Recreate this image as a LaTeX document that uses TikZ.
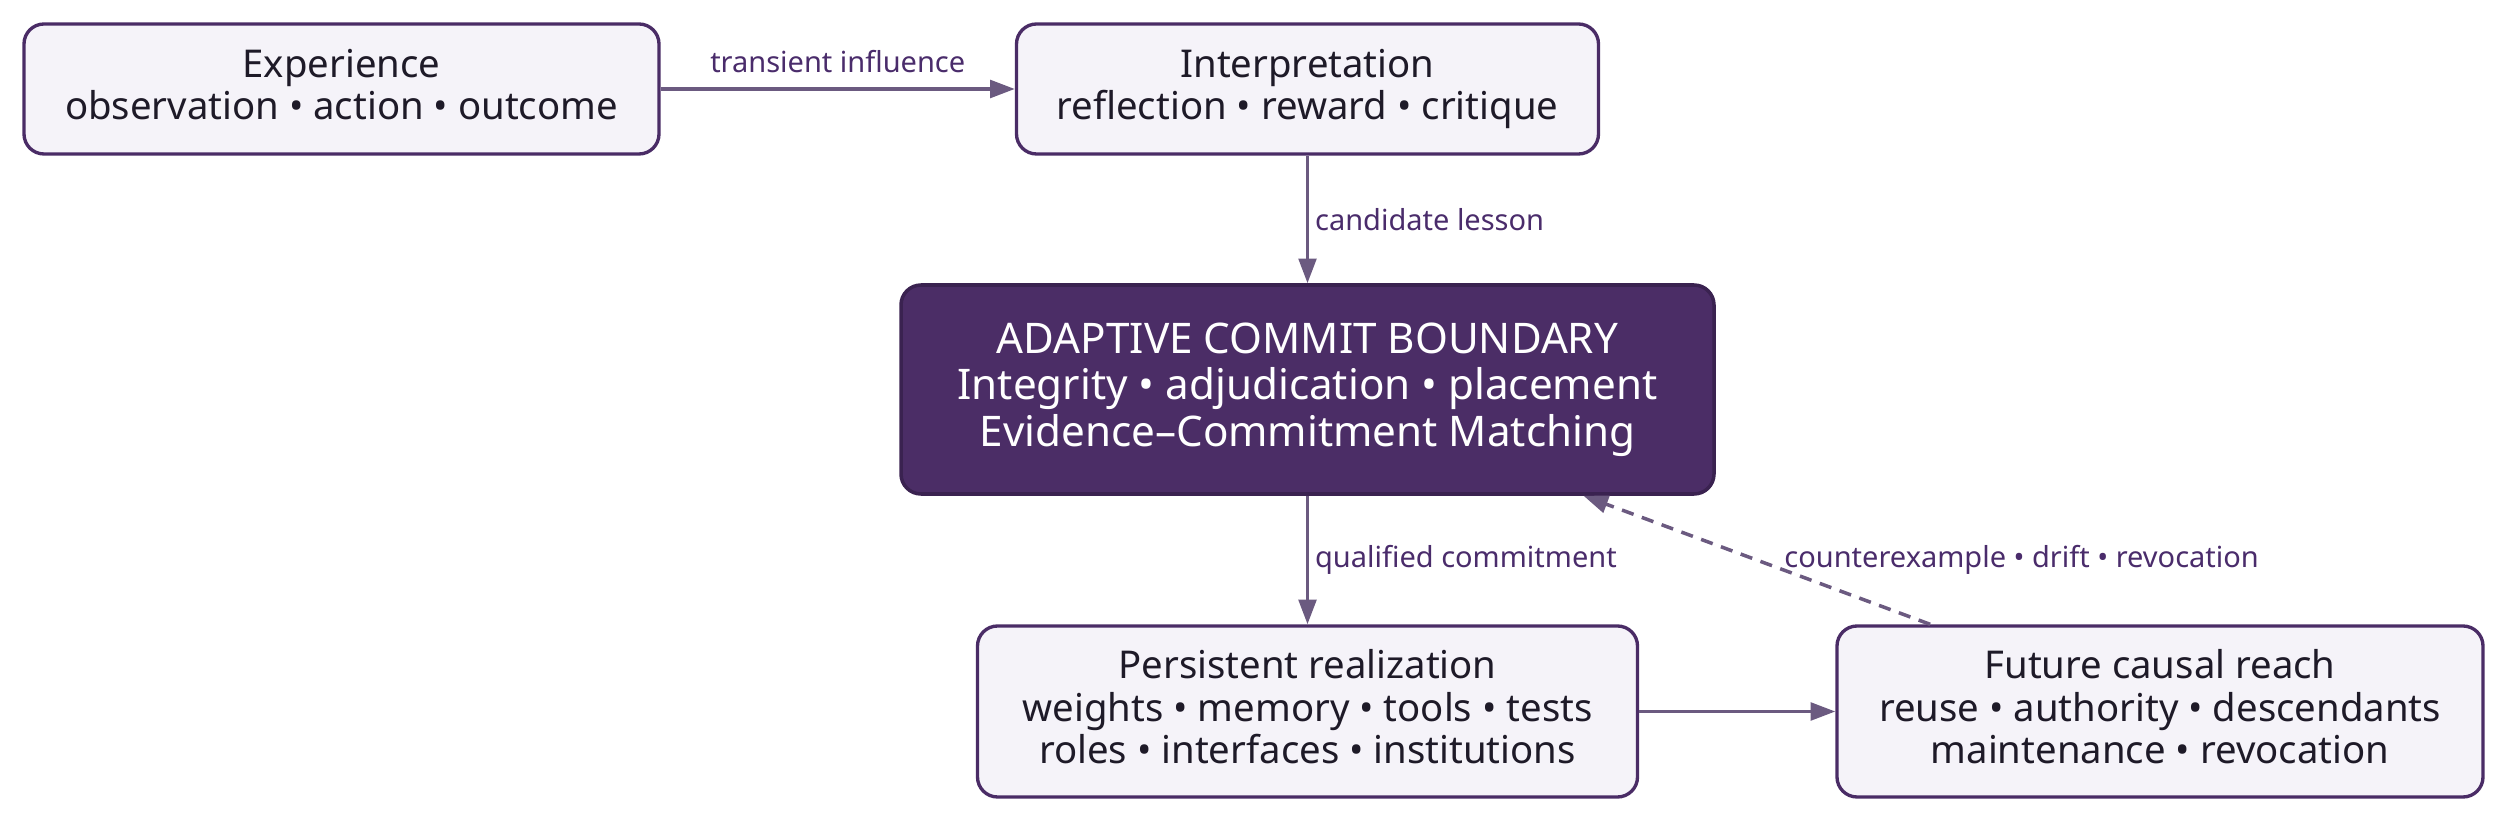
\documentclass[tikz,border=0pt]{standalone}
\usepackage{fontspec}
\setmainfont{Noto Sans}
\usetikzlibrary{arrows.meta}
\usetikzlibrary{calc}

\definecolor{boxfill}{HTML}{F5F3F9}
\definecolor{boxline}{HTML}{4A2C66}
\definecolor{corefill}{HTML}{4B2D66}
\definecolor{coreline}{HTML}{3A2250}
\definecolor{wire}{HTML}{6B5A80}
\definecolor{labtext}{HTML}{4A2C6B}
\definecolor{bodytext}{HTML}{1E1A28}

\begin{document}
\begin{tikzpicture}[
    stage/.style={draw=boxline, line width=1.9pt, fill=boxfill, rounded corners=0.4cm,
        align=center, text=bodytext, font=\fontsize{21.8}{24.2}\selectfont, inner sep=0pt},
    core/.style={draw=coreline, line width=2pt, fill=corefill, rounded corners=0.4cm,
        align=center, text=white, font=\fontsize{24}{26.5}\selectfont, inner sep=0pt},
    flow/.style={draw=wire, line width=2pt, -{Triangle[length=14pt,width=10pt]}},
    edgetext/.style={text=labtext, font=\fontsize{16.5}{19}\selectfont}
]

\useasboundingbox (0,0) rectangle (50.16,16.48);

% top row
\node[stage, minimum width=12.7cm, minimum height=2.6cm] (exp) at (6.83,14.70)
    {Experience\\observation \textbullet{} action \textbullet{} outcome\vphantom{g}};
\node[stage, minimum width=11.64cm, minimum height=2.6cm] (interp) at (26.15,14.70)
    {Interpretation\\reflection \textbullet{} reward \textbullet{} critique};

% boundary
\node[core, minimum width=16.26cm, minimum height=4.18cm] (acb) at (26.15,8.69)
    {ADAPTIVE COMMIT BOUNDARY\\Integrity \textbullet{} adjudication \textbullet{} placement\\Evidence--Commitment Matching};

% bottom row
\node[stage, minimum width=13.2cm, minimum height=3.42cm] (pers) at (26.15,2.25)
    {Persistent realization\\weights \textbullet{} memory \textbullet{} tools \textbullet{} tests\\roles \textbullet{} interfaces \textbullet{} institutions\vphantom{g}};
\node[stage, minimum width=12.92cm, minimum height=3.42cm] (fut) at (43.20,2.25)
    {Future causal reach\\reuse \textbullet{} authority \textbullet{} descendants\\maintenance \textbullet{} revocation\vphantom{g}};

% connectors
\draw[flow] (exp) -- (interp) node[midway, above=0.17cm, edgetext] {transient influence};
\draw[flow] (interp) -- (acb) node[midway, right=0cm, edgetext] {candidate lesson};
\draw[flow] (acb) -- (pers) node[midway, right=0cm, edgetext] {qualified commitment};
\draw[flow] (pers) -- (fut);

% feedback
\coordinate (backfrom) at ($(fut.north west)!0.146!(fut.north east)$);
\coordinate (backto) at ($(acb.south west)!0.838!(acb.south east)$);
\draw[flow, dash pattern=on 7pt off 5pt] (backfrom) -- (backto)
    node[midway, right=0.4cm, edgetext] {counterexample \textbullet{} drift \textbullet{} revocation};

\end{tikzpicture}
\end{document}
